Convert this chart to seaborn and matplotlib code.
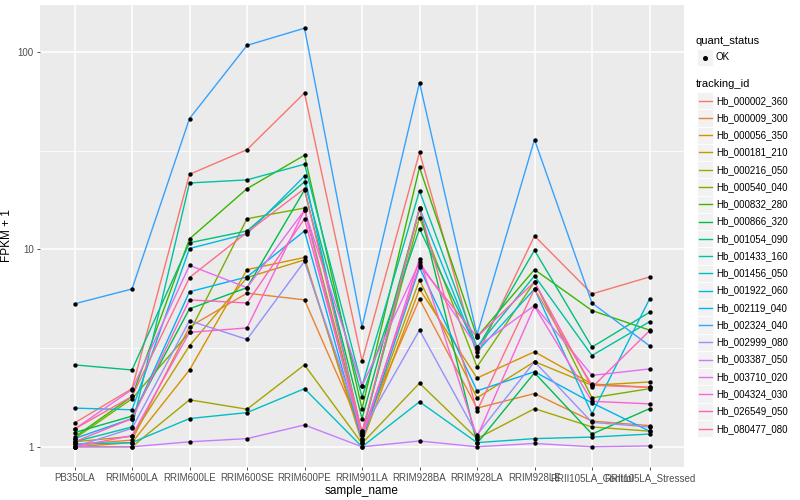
import pandas as pd
import matplotlib
matplotlib.use('Agg')
import matplotlib.pyplot as plt
import seaborn as sns
from matplotlib.patches import Rectangle
from matplotlib.lines import Line2D

# Samples on the x axis
samples = ['PB350LA', 'RRIM600LA', 'RRIM600LE', 'RRIM600SE', 'RRIM600PE', 'RRIM901LA',
           'RRIM928BA', 'RRIM928LA', 'RRIM928LE', 'RRII105LA_Control', 'RRII105LA_Stressed']

tracking_ids = ['Hb_000002_360', 'Hb_000009_300', 'Hb_000056_350', 'Hb_000181_210', 'Hb_000216_050',
                'Hb_000540_040', 'Hb_000832_280', 'Hb_000866_320', 'Hb_001054_090', 'Hb_001433_160',
                'Hb_001456_050', 'Hb_001922_060', 'Hb_002119_040', 'Hb_002324_040', 'Hb_002999_080',
                'Hb_003387_050', 'Hb_003710_020', 'Hb_004324_030', 'Hb_026549_050', 'Hb_080477_080']

# ggplot default hue palette for 20 levels
palette = ['#F8766D', '#EA8331', '#D89000', '#C09B00', '#A3A500', '#7CAE00', '#39B600', '#00BB4E',
           '#00BF7D', '#00C1A3', '#00BFC4', '#00BAE0', '#00B0F6', '#35A2FF', '#9590FF', '#C77CFF',
           '#E76BF3', '#FA62DB', '#FF62BC', '#FF6C91']

# FPKM + 1 per gene, in sample order
hb_000002_360 = [1.32, 1.97, 24.0, 32.0, 62.0, 2.72, 31.0, 2.9, 11.7, 5.95, 7.25]
hb_000009_300 = [1.03, 1.08, 4.05, 6.0, 5.55, 1.2, 5.6, 1.57, 1.86, 1.35, 1.28]
hb_000056_350 = [1.0, 1.05, 2.45, 7.9, 9.1, 1.05, 6.3, 2.23, 3.03, 2.08, 2.0]
hb_000181_210 = [1.06, 1.13, 3.25, 7.2, 8.85, 1.1, 7.0, 1.77, 2.7, 2.05, 2.13]
hb_000216_050 = [1.0, 1.0, 1.73, 1.55, 2.6, 1.04, 2.1, 1.1, 1.56, 1.26, 1.2]
hb_000540_040 = [1.1, 1.75, 3.8, 14.3, 16.2, 1.18, 14.5, 2.54, 6.85, 1.77, 1.97]
hb_000832_280 = [1.12, 1.8, 11.3, 20.3, 30.0, 1.56, 26.0, 3.6, 7.9, 4.9, 3.9]
hb_000866_320 = [1.18, 1.43, 5.0, 6.4, 20.0, 1.39, 16.0, 1.04, 2.37, 1.16, 1.56]
hb_001054_090 = [2.6, 2.45, 10.8, 12.4, 22.0, 1.79, 12.7, 3.13, 9.9, 3.2, 4.8]
hb_001433_160 = [1.06, 1.26, 21.7, 22.5, 27.0, 2.03, 19.8, 3.2, 7.35, 2.9, 4.3]
hb_001456_050 = [1.03, 1.05, 1.39, 1.49, 1.97, 1.0, 1.69, 1.05, 1.1, 1.12, 1.16]
hb_001922_060 = [1.57, 1.54, 10.1, 12.0, 23.5, 1.15, 16.2, 3.03, 6.3, 1.47, 5.6]
hb_002119_040 = [1.1, 1.39, 6.1, 7.25, 12.4, 1.07, 8.1, 1.92, 2.4, 1.67, 1.2]
hb_002324_040 = [5.3, 6.3, 46.0, 108.0, 132.0, 4.05, 70.0, 3.69, 36.0, 5.35, 3.25]
hb_002999_080 = [1.0, 1.24, 4.35, 3.5, 8.7, 1.2, 3.9, 1.15, 2.7, 1.33, 1.26]
hb_003387_050 = [1.0, 1.0, 1.06, 1.1, 1.29, 1.0, 1.07, 1.0, 1.04, 1.0, 1.01]
hb_003710_020 = [1.23, 1.95, 8.3, 6.4, 15.8, 2.03, 8.6, 3.2, 5.2, 2.3, 2.48]
hb_004324_030 = [1.0, 1.14, 3.8, 4.0, 15.8, 1.1, 8.95, 1.12, 5.15, 1.7, 1.65]
hb_026549_050 = [1.06, 1.39, 5.55, 5.35, 14.3, 1.15, 8.3, 3.6, 6.85, 2.0, 3.87]
hb_080477_080 = [1.23, 1.8, 7.2, 12.2, 20.3, 1.18, 16.2, 1.52, 6.3, 2.05, 2.0]

series = [hb_000002_360, hb_000009_300, hb_000056_350, hb_000181_210, hb_000216_050,
          hb_000540_040, hb_000832_280, hb_000866_320, hb_001054_090, hb_001433_160,
          hb_001456_050, hb_001922_060, hb_002119_040, hb_002324_040, hb_002999_080,
          hb_003387_050, hb_003710_020, hb_004324_030, hb_026549_050, hb_080477_080]

rows = []
for tid, vals in zip(tracking_ids, series):
    for s, v in zip(samples, vals):
        rows.append({'tracking_id': tid, 'sample_name': s, 'fpkm1': v, 'quant_status': 'OK'})
df = pd.DataFrame(rows)

plt.rcParams['font.family'] = ['Liberation Sans', 'DejaVu Sans']

W, H = 800, 500
fig = plt.figure(figsize=(8, 5), dpi=100)
fig.patch.set_facecolor('white')
ax = fig.add_axes([40 / W, 33 / H, 644 / W, 462 / H])
ax.set_facecolor('#EBEBEB')

sns.lineplot(data=df, x='sample_name', y='fpkm1', hue='tracking_id', hue_order=tracking_ids,
             palette=palette, sort=False, lw=1.0, legend=False, ax=ax, zorder=2)
sns.scatterplot(data=df, x='sample_name', y='fpkm1', color='black', s=10, linewidth=0,
                legend=False, ax=ax, zorder=3)

ax.set_yscale('log')
ax.set_ylim(0.79, 173)
ax.set_xlim(-0.6, len(samples) - 0.4)
ax.set_yticks([1, 10, 100])
ax.set_yticklabels(['1', '10', '100'])
ax.set_yticks([10 ** 0.5, 10 ** 1.5], minor=True)
ax.set_xticks(range(len(samples)))
ax.set_xticklabels(samples)

ax.grid(True, which='major', color='white', lw=1.1, zorder=0)
ax.grid(True, which='minor', axis='y', color='white', lw=0.55, zorder=0)
ax.set_axisbelow(True)
for sp in ax.spines.values():
    sp.set_visible(False)
ax.tick_params(axis='both', which='major', length=2.5, width=0.6, color='#333333',
               labelcolor='#4D4D4D', labelsize=7, pad=2)
ax.tick_params(axis='y', which='minor', length=0)
ax.set_xlabel('sample_name', fontsize=8.5, color='black', labelpad=1)
ax.set_ylabel('FPKM + 1', fontsize=8.5, color='black', labelpad=2)
ax.yaxis.set_label_coords(-27 / 644, 0.5)


def fx(x):
    return x / W


def fy(y):
    return 1 - y / H


# legend drawn in the ggplot style
fig.text(fx(696), fy(41), 'quant_status', fontsize=8, va='center', ha='left')
fig.patches.append(Rectangle((fx(697), fy(65.5)), 16 / W, 16.5 / H, transform=fig.transFigure,
                             facecolor='#F2F2F2', edgecolor='white', lw=0.6))
fig.lines.append(Line2D([fx(705)], [fy(57.5)], transform=fig.transFigure, marker='o',
                        markersize=2.6, color='black', lw=0))
fig.text(fx(716), fy(57.5), 'OK', fontsize=7, va='center', ha='left')

fig.text(fx(696), fy(84), 'tracking_id', fontsize=8, va='center', ha='left')
step = 17.26
for i, (tid, col) in enumerate(zip(tracking_ids, palette)):
    yc = 100.7 + i * step
    fig.patches.append(Rectangle((fx(697), fy(yc + step / 2)), 16 / W, step / H,
                                 transform=fig.transFigure, facecolor='#F2F2F2',
                                 edgecolor='white', lw=0.6))
    fig.lines.append(Line2D([fx(698.5), fx(711.5)], [fy(yc), fy(yc)], transform=fig.transFigure,
                            color=col, lw=1.0))
    fig.text(fx(716), fy(yc), tid, fontsize=7, va='center', ha='left')

fig.savefig('out.png', dpi=100)
